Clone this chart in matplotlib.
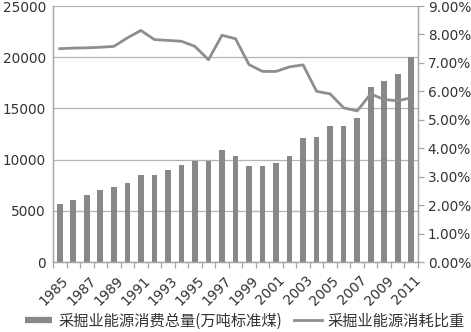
import matplotlib
matplotlib.use('Agg')
from matplotlib import pyplot as plt
from matplotlib.lines import Line2D
from matplotlib.ticker import FuncFormatter

plt.rcParams['font.family'] = ['Noto Sans CJK SC', 'DejaVu Sans']

# data
years = list(range(1985, 2012))
consumption = [5700, 6050, 6550, 7050, 7300, 7750, 8450, 8500, 9000, 9480,
               9870, 9870, 10950, 10400, 9330, 9330, 9650, 10400, 12100, 12250,
               13250, 13300, 14050, 17050, 17650, 18400, 20000]
share = [7.50, 7.52, 7.53, 7.55, 7.58, 7.88, 8.14, 7.82, 7.79, 7.76,
         7.58, 7.11, 7.97, 7.85, 6.94, 6.70, 6.70, 6.86, 6.93, 6.00,
         5.91, 5.42, 5.31, 5.91, 5.71, 5.67, 5.77]
bar_label = '采掘业能源消费总量(万吨标准煤)'
line_label = '采掘业能源消耗比重'

bar_color = '#888888'
line_color = '#8e8e8e'
axis_color = '#a6a6a6'
tick_font = {'family': 'DejaVu Sans', 'size': 9.8}

fig = plt.figure(figsize=(4.71, 3.32), dpi=100)
ax = fig.add_axes([53 / 471, 1 - 262 / 332, (418 - 53) / 471, (262 - 6) / 332])
ax2 = ax.twinx()

x = list(range(len(years)))
ax.bar(x, consumption, width=0.42, color=bar_color, zorder=2)
ax2.plot(x, share, color=line_color, lw=2.0, zorder=3)

# left axis
ax.set_ylim(0, 25000)
ax.set_yticks(range(0, 25001, 5000))
ax.yaxis.grid(True, color='#b4b4b4', lw=0.9, zorder=0)
ax.set_axisbelow(True)
ax.tick_params(axis='y', length=0, pad=5, colors='#333333')
for lab in ax.get_yticklabels():
    lab.set_fontfamily(tick_font['family'])
    lab.set_fontsize(tick_font['size'])

# x axis: ticks at category boundaries, labels every other year
ax.set_xlim(-0.5, len(years) - 0.5)
ax.set_xticks([i - 0.5 for i in range(len(years) + 1)], minor=False)
ax.set_xticklabels([])
ax.tick_params(axis='x', length=4, color=axis_color, width=0.9)
for i, yr in enumerate(years):
    if i % 2 == 0:
        ax.text(i + 0.15, -1100, str(yr), rotation=45, ha='right', va='top',
                rotation_mode='anchor', color='#333333', **tick_font)

# right axis
ax2.set_ylim(0, 9)
ax2.set_yticks(range(0, 10))
ax2.yaxis.set_major_formatter(FuncFormatter(lambda v, p: '%.2f%%' % v))
ax2.tick_params(axis='y', length=4, color=axis_color, width=0.9, pad=3,
                colors='#333333')
ax2.tick_params(axis='y', color=axis_color)
for lab in ax2.get_yticklabels():
    lab.set_fontfamily(tick_font['family'])
    lab.set_fontsize(tick_font['size'])

for a in (ax, ax2):
    a.spines['top'].set_visible(False)
    for s in ('left', 'right', 'bottom'):
        a.spines[s].set_color(axis_color)
        a.spines[s].set_linewidth(0.9)

handles = [
    Line2D([0], [0], color=bar_color, lw=4.5, solid_capstyle='butt'),
    Line2D([0], [0], color=line_color, lw=2.0),
]
fig.legend(handles, [bar_label, line_label], loc='center',
           bbox_to_anchor=(245 / 471, 1 - 321 / 332), ncol=2, frameon=False,
           fontsize=11, handlelength=1.8, handletextpad=0.4,
           columnspacing=0.8, borderpad=0, labelcolor='#333333')

fig.savefig('out.png', dpi=100)
